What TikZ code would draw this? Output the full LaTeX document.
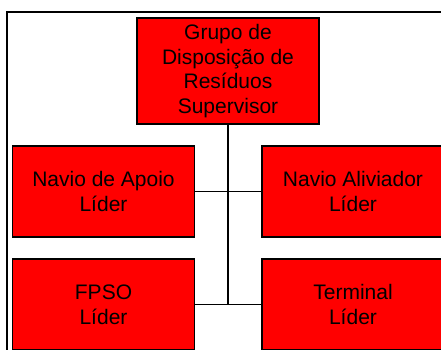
\documentclass[tikz,border=0pt]{standalone}
\usepackage{fontspec}
\setmainfont{Liberation Sans}
\usepackage{tikz}
\usetikzlibrary{positioning}

\tikzset{
    caja/.style={draw=black, line width=1.4pt, fill=red, align=center,
        minimum width=182pt, minimum height=91pt, inner sep=0pt,
        font=\fontsize{21}{24.7}\selectfont},
    linea/.style={draw=black, line width=1.1pt}
}

\begin{document}
\begin{tikzpicture}[x=1pt, y=-1pt]
        \useasboundingbox (0,0) rectangle (441,350);
        \clip (0,0) rectangle (441,350);
        % Marco exterior
        \draw[line width=1.6pt] (7,12) rectangle (460,370);
        % Cajas del organigrama
        \node[caja, minimum height=106pt] (sup) at (228,71) {Grupo de\\Disposição de\\Resíduos\\Supervisor};
        \node[caja] (apoio) at (103.5,191.5) {Navio de Apoio\\Líder};
        \node[caja] (aliviador) at (353,191.5) {Navio Aliviador\\Líder};
        \node[caja] (fpso) at (103.5,304.5) {FPSO\\Líder};
        \node[caja] (terminal) at (353,304.5) {Terminal\\Líder};
        % Conectores
        \draw[linea] (sup.south) -- (sup.south |- fpso.east);
        \draw[linea] (apoio.east) -- (aliviador.west);
        \draw[linea] (fpso.east) -- (terminal.west);
    \end{tikzpicture}
\end{document}
